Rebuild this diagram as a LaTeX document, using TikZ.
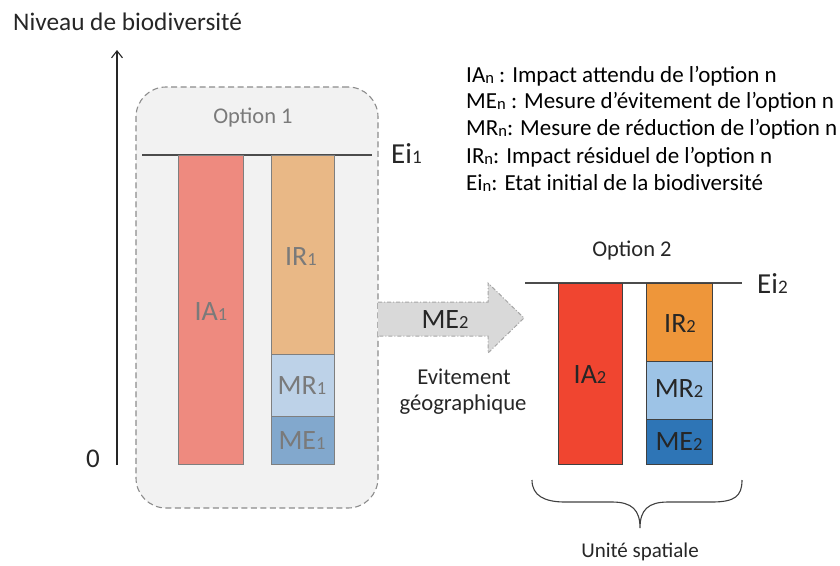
\documentclass[tikz,border=0pt]{standalone}
\usepackage{fontspec}
\setmainfont{Carlito}
\usetikzlibrary{arrows.meta}
\definecolor{boxfill}{HTML}{F2F2F2}
\definecolor{boxline}{HTML}{8C8C8C}
\definecolor{barline1}{HTML}{7F7F7F}
\definecolor{barline2}{HTML}{404040}
\definecolor{ia1}{HTML}{EE8A7F}
\definecolor{ir1}{HTML}{E9B886}
\definecolor{mr1}{HTML}{BDD2E8}
\definecolor{me1}{HTML}{82A8CD}
\definecolor{ia2}{HTML}{F04530}
\definecolor{ir2}{HTML}{EE963A}
\definecolor{mr2}{HTML}{9DC3E6}
\definecolor{me2}{HTML}{2E75B6}
\definecolor{txtgray}{HTML}{7A7A7A}
\definecolor{txtdark}{HTML}{262626}
\definecolor{arrfill}{HTML}{D9D9D9}
\definecolor{arrline}{HTML}{A6A6A6}
\newcommand\lowsub[1]{\scalebox{0.66}{#1}}
\newcommand\legsub[1]{\raisebox{-0.08em}{\scalebox{0.72}{#1}}}
\begin{document}
\begin{tikzpicture}[x=1pt,y=-1pt,
  bar1/.style={draw=barline1, line width=1pt, inner sep=0pt, text=txtgray, anchor=north west},
  bar2/.style={draw=barline2, line width=1pt, inner sep=0pt, text=txtdark, anchor=north west},
  barlab/.style={font=\fontsize{28}{30}\selectfont, anchor=base, inner sep=0pt},
  eiline/.style={draw=black!70, line width=1.1pt},
  legend/.style={font=\fontsize{23}{26}\selectfont, anchor=base west, inner sep=0pt, text=black},
  optlab/.style={font=\fontsize{22.5}{25}\selectfont, anchor=base, inner sep=0pt},
  eilab/.style={font=\fontsize{29}{30}\selectfont, anchor=base west, inner sep=0pt, text=txtdark},
]
\useasboundingbox (0,0) rectangle (840,565);

% axis
\node[font=\fontsize{25.3}{28}\selectfont, anchor=base west, inner sep=0pt, text=txtdark] (title) at (13,30) {Niveau de biodiversité};
\coordinate (axb) at (117,465);
\coordinate (axt) at (117,50);
\draw[line width=1.1pt, black!85, -{Straight Barb[length=7pt,width=11pt]}] (axb) -- (axt);
\node[font=\fontsize{27}{30}\selectfont, anchor=base, inner sep=0pt, text=txtdark] (zero) at (93,467) {0};

% option 1 box
\node[draw=boxline, fill=boxfill, line width=1.1pt, dash pattern=on 6pt off 3.5pt, rounded corners=30pt,
  minimum width=242pt, minimum height=421pt, inner sep=0pt] (box1) at (257,297.5) {};
\node[optlab, text=txtgray] (opt1) at (253,123) {Option 1};
\coordinate (ei1a) at (142,155);
\coordinate (ei1b) at (372,155);
\draw[eiline] (ei1a) -- (ei1b);
\node[eilab] (ei1) at (391,163) {Ei\lowsub{1}};

\node[bar1, fill=ia1, minimum width=65pt, minimum height=309pt] (IA1) at (177.5,155) {};
\node[bar1, fill=ir1, minimum width=63pt, minimum height=199pt] (IR1) at (270.5,155) {};
\node[bar1, fill=mr1, minimum width=63pt, minimum height=62pt] (MR1) at (270.5,354) {};
\node[bar1, fill=me1, minimum width=63pt, minimum height=48pt] (ME1) at (270.5,416) {};
\node[barlab, text=txtgray] (lIA1) at (211,320) {IA\lowsub{1}};
\node[barlab, text=txtgray] (lIR1) at (301,265) {IR\lowsub{1}};
\node[barlab, text=txtgray] (lMR1) at (302,394) {MR\lowsub{1}};
\node[barlab, text=txtgray] (lME1) at (302,449) {ME\lowsub{1}};

% big arrow
\fill[arrfill] (378,302) -- (488,302) -- (488,283) -- (524,318) -- (488,353) -- (488,336) -- (378,336) -- cycle;
\draw[arrline, line width=1pt, dash pattern=on 4pt off 2pt on 1pt off 2pt]
  (378,302) -- (488,302) -- (488,283) -- (524,318) -- (488,353) -- (488,336) -- (378,336);
\node[barlab, text=txtdark] (lMEarr) at (445,328) {ME\lowsub{2}};
\node[font=\fontsize{22.7}{25}\selectfont, anchor=base, inner sep=0pt, text=txtdark] (evit) at (464,384) {Evitement};
\node[font=\fontsize{22.7}{25}\selectfont, anchor=base, inner sep=0pt, text=txtdark] (geo) at (463,410) {géographique};

% option 2
\node[optlab, text=txtdark] (opt2) at (632,256) {Option 2};
\coordinate (ei2a) at (525,283);
\coordinate (ei2b) at (742,283);
\draw[eiline] (ei2a) -- (ei2b);
\node[eilab] (ei2) at (757,293) {Ei\lowsub{2}};

\node[bar2, fill=ia2, minimum width=64pt, minimum height=181pt] (IA2) at (558,283) {};
\node[bar2, fill=ir2, minimum width=66pt, minimum height=78pt] (IR2) at (646,283) {};
\node[bar2, fill=mr2, minimum width=66pt, minimum height=58pt] (MR2) at (646,361) {};
\node[bar2, fill=me2, minimum width=66pt, minimum height=45pt] (ME2) at (646,419) {};
\node[barlab, text=txtdark] (lIA2) at (590,383) {IA\lowsub{2}};
\node[barlab, text=txtdark] (lIR2) at (680,332) {IR\lowsub{2}};
\node[barlab, text=txtdark] (lMR2) at (679,397) {MR\lowsub{2}};
\node[barlab, text=txtdark] (lME2) at (679,450) {ME\lowsub{2}};

% brace
\draw[black!75, line width=1.1pt] (532,480) .. controls (532,496) and (545,502) .. (565,502) -- (612,502)
  .. controls (632,502) and (640,510) .. (640,528)
  .. controls (640,510) and (648,502) .. (668,502) -- (712,502)
  .. controls (735,502) and (742,496) .. (742,480);
\node[font=\fontsize{21}{24}\selectfont, anchor=base, inner sep=0pt, text=txtdark] (unite) at (640,557) {Unité spatiale};

% legend
\node[legend] (leg1) at (466,82) {IA\legsub{n} : Impact attendu de l’option n};
\node[legend] (leg2) at (466,108) {ME\legsub{n} : Mesure d’évitement de l’option n};
\node[legend] (leg3) at (466,135) {MR\legsub{n}: Mesure de réduction de l’option n};
\node[legend] (leg4) at (466,163) {IR\legsub{n}: Impact résiduel de l’option n};
\node[legend] (leg5) at (466,190) {Ei\legsub{n}: Etat initial de la biodiversité};
\end{tikzpicture}
\end{document}
